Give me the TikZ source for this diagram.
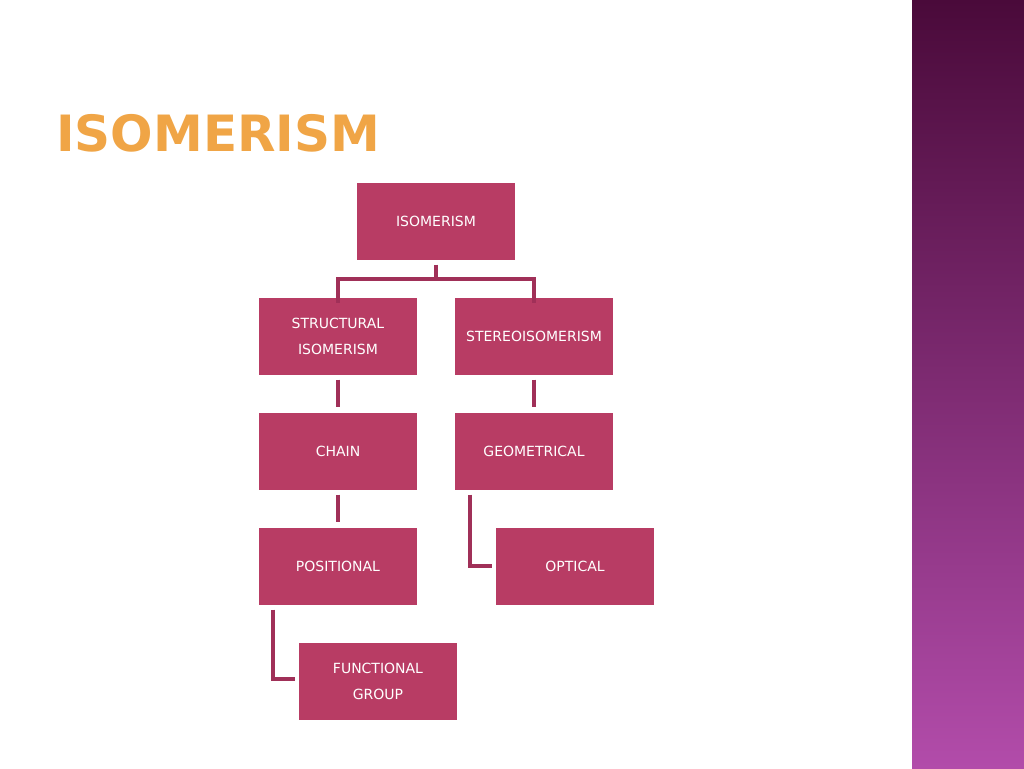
\documentclass[tikz,border=0pt]{standalone}
\usepackage{fontspec}
\setmainfont{DejaVu Sans}
\newfontfamily\titlefont{DejaVu Sans}
\definecolor{boxc}{HTML}{B83C64}
\definecolor{linec}{HTML}{A03058}
\begin{document}
\begin{tikzpicture}[x=1pt,y=-1pt,
  bx/.style={fill=boxc,minimum width=158pt,minimum height=77pt,inner sep=0pt,text=white,align=center,font=\fontsize{14}{26}\selectfont},
  ln/.style={draw=linec,line width=4pt}]
\useasboundingbox (0,0) rectangle (1024,768);
\fill[white] (0,0) rectangle (1024,768);
\shade[top color={rgb,255:red,74;green,10;blue,58},bottom color={rgb,255:red,178;green,76;blue,170}] (912,0) rectangle (1024,768);
\node[anchor=west,inner sep=0pt,font=\titlefont\bfseries\fontsize{50}{50}\selectfont,text={rgb,255:red,240;green,165;blue,70}] (title) at (56,133) {ISOMERISM};
\node[bx] (iso) at (436,221) {ISOMERISM};
\node[bx] (str) at (338,336) {STRUCTURAL\\ISOMERISM};
\node[bx] (ste) at (534,336) {STEREOISOMERISM};
\node[bx] (cha) at (338,451) {CHAIN};
\node[bx] (geo) at (534,451) {GEOMETRICAL};
\node[bx] (pos) at (338,566) {POSITIONAL};
\node[bx] (opt) at (575,566) {OPTICAL};
\node[bx] (fun) at (378,681) {FUNCTIONAL\\GROUP};
\draw[ln] ([yshift=-5pt]iso.south) -- ++(0,14) -| ([yshift=-6pt]str.north);
\draw[ln] ([yshift=-19pt]iso.south) -| ([yshift=-6pt]ste.north);
\draw[ln] ([yshift=-5pt]str.south) -- ([yshift=5pt]cha.north);
\draw[ln] ([yshift=-5pt]ste.south) -- ([yshift=5pt]geo.north);
\draw[ln] ([yshift=-5pt]cha.south) -- ([yshift=5pt]pos.north);
\draw[ln] ([xshift=-64pt,yshift=-5pt]geo.south) |- ([xshift=-4pt]opt.west);
\draw[ln] ([xshift=-65pt,yshift=-5pt]pos.south) |- ([xshift=-4pt,yshift=2pt]fun.west);
\end{tikzpicture}
\end{document}
